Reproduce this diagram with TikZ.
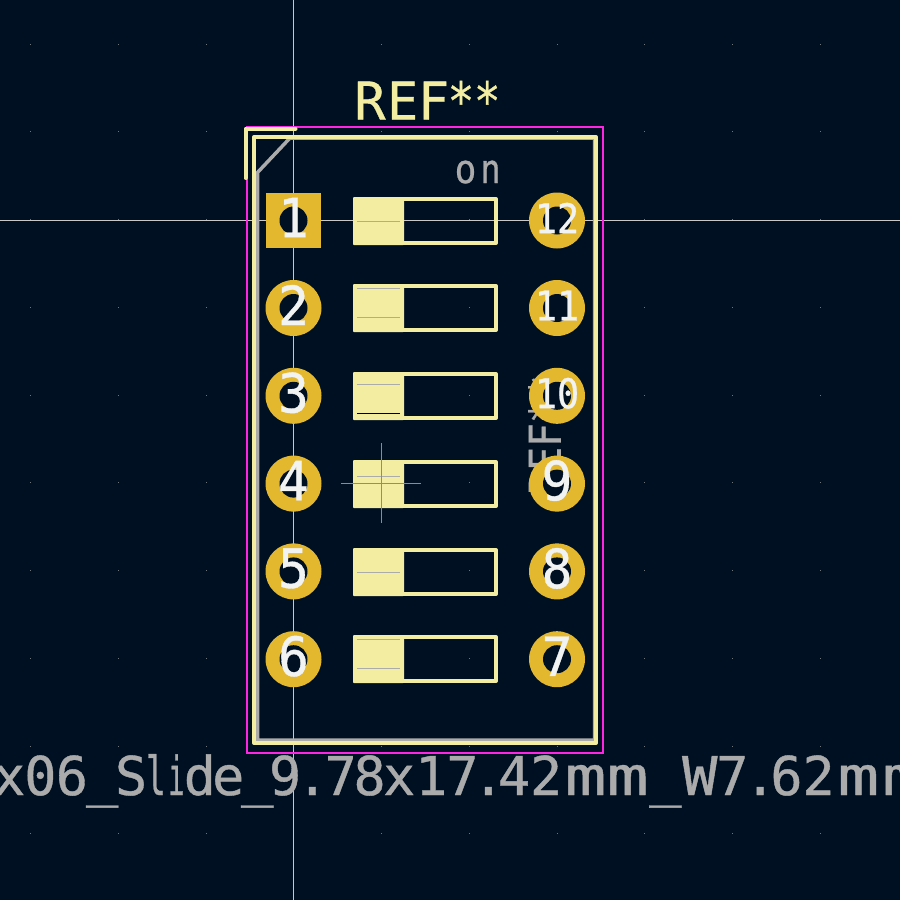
\documentclass[tikz,border=0pt]{standalone}
\usepackage{fontspec}
\newfontfamily\kifont[FakeBold=0.7]{DejaVu Sans Mono}
\definecolor{bgc}{HTML}{001023}
\definecolor{silk}{HTML}{F2EDA1}
\definecolor{fab}{HTML}{ABABAB}
\definecolor{court}{HTML}{FF26E2}
\definecolor{padc}{HTML}{E3B72E}
\definecolor{axisc}{HTML}{C8C8C8}
\definecolor{numc}{HTML}{F1F2F2}
\tikzset{
  x=1pt,y=-1pt,
  silkline/.style={draw=silk,line width=4pt,line join=round},
  fabline/.style={draw=fab,line width=1pt},
  padround/.style={circle,fill=padc,minimum size=56pt,inner sep=0pt},
  padsquare/.style={rectangle,fill=padc,minimum size=55pt,inner sep=0pt},
  hole/.style={circle,fill=bgc,minimum size=28pt,inner sep=0pt},
  kitext/.style={inner sep=0pt,font=\kifont},
}
\newcommand{\kitxt}[3]{\scalebox{#1}[1]{\fontsize{#2}{#2}\selectfont #3}}
\newcommand{\gl}[2]{\makebox[#1pt][c]{#2}}
\newcommand{\wm}{\scalebox{1.3}[1]{m}}
\newcommand{\nar}[2]{\scalebox{#1}[1]{#2}}
\begin{document}
\begin{tikzpicture}
\useasboundingbox (0,0) rectangle (900,900);
\fill[bgc] (0,0) rectangle (900,900);
\clip (0,0) rectangle (900,900);
% grid dots
\foreach \i in {0,...,10}{\foreach \j in {0,...,9}{
  \fill[fab!65!bgc] ({30.7+87.75*\i-0.5},{44.2+87.75*\j-0.5}) rectangle ++(1,1);
}}
% axes
\draw[axisc,line width=1pt] (293.5,0) -- (293.5,900);
\draw[axisc,line width=1pt] (0,220.5) -- (900,220.5);
% fab outline
\draw[fab,line width=3.5pt] (290,138) -- (594.5,138) -- (594.5,740) -- (257.5,740) -- (257.5,172.5) -- cycle;
% fab texts
\node[kitext,text=fab,anchor=base] (fabon) at (478.5,183) {\fontsize{40}{40}\selectfont\gl{24}{\scalebox{0.9}[1]{o}}\gl{26}{\scalebox{0.85}[1]{n}}};
\node[kitext,text=fab,anchor=center,rotate=90] (fabref) at (544.5,435) {\kitxt{0.9}{44}{REF**}};
\node[kitext,text=fab,anchor=base west] (fabval) at (-6,795) {\fontsize{53.5}{53.5}\selectfont
\gl{30.25}{x}\gl{31.75}{0}\gl{31.25}{6}\gl{29.5}{\_}\gl{28.25}{S}\gl{21.5}{\nar{0.62}{l}}\gl{19.5}{\nar{0.5}{i}}\gl{27.25}{d}\gl{29.5}{e}\gl{28.5}{\_}%
\gl{27.25}{9}\gl{27.5}{.}\gl{29}{7}\gl{28.75}{8}\gl{30.5}{x}\gl{33.75}{1}\gl{28.5}{7}\gl{23.25}{.}\gl{28.25}{4}\gl{35.75}{2}%
\gl{43.25}{\wm}\gl{41}{\wm}\gl{34.5}{\_}\gl{34.25}{\scalebox{1.1}[1]{W}}\gl{30.75}{7}\gl{24.75}{.}\gl{28}{6}\gl{36.25}{2}\gl{43.25}{\wm}\gl{46.5}{\wm}};
% silk outline
\draw[silkline] (254,137.3) rectangle (596,743);
% courtyard
\draw[court,line width=2pt] (247,127.3) rectangle (603,752.7);
\draw[silkline,line cap=round] (245.7,178) -- (245.7,128.7) -- (295.5,128.7);
\node[kitext,text=silk,anchor=base west] (silkref) at (353.4,119.5) {\fontsize{52}{52}\selectfont\gl{32.8}{R}\gl{32.6}{E}\gl{28.9}{F}\gl{26.2}{\nar{0.85}{*}}\gl{26.3}{\nar{0.85}{*}}};
% switches
\foreach \n/\t in {a/197,b/284,c/372,d/460,e/548,f/635}{
  \fill[silk,rounded corners=1pt] (353,\t) rectangle (404,\t+48);
  \draw[silkline] (355,\t+2) rectangle (496,\t+46);
}
\foreach \a/\c in {221/fab,288.3/fab,317.3/fab,384.3/fab,413.3/black,476.3/fab,572.3/fab,639.3/fab,668.3/fab}{
  \draw[\c,line width=1pt] (357,\a) -- (400,\a);
}
% anchor cross
\draw[gray!90,line width=1pt] (341,483.5) -- (421,483.5);
\draw[gray!90,line width=1pt] (381.5,443) -- (381.5,523);
% pads
\node[padsquare] (p1) at (293.5,220.5) {};
\foreach \n/\px/\py in {2/293.5/308,3/293.5/395.8,4/293.5/483.6,5/293.5/571.4,6/293.5/659.2,
  7/557/659.2,8/557/571.4,9/557/483.6,10/557/395.8,11/557/308,12/557/220.5}{
  \node[padround] (p\n) at (\px,\py) {};
}
\foreach \n in {1,...,12}{ \node[hole] (h\n) at (p\n) {}; }
% pad numbers
\foreach \n in {1,2,3,4,5,6,7,8,9}{
  \node[kitext,text=numc] (t\n) at ([yshift=3pt]p\n) {\kitxt{0.95}{54}{\n}};
}
\foreach \n in {10,11,12}{
  \node[kitext,text=numc] (t\n) at ([yshift=2.5pt]p\n) {\kitxt{0.9}{41}{\n}};
}
\end{tikzpicture}
\end{document}
